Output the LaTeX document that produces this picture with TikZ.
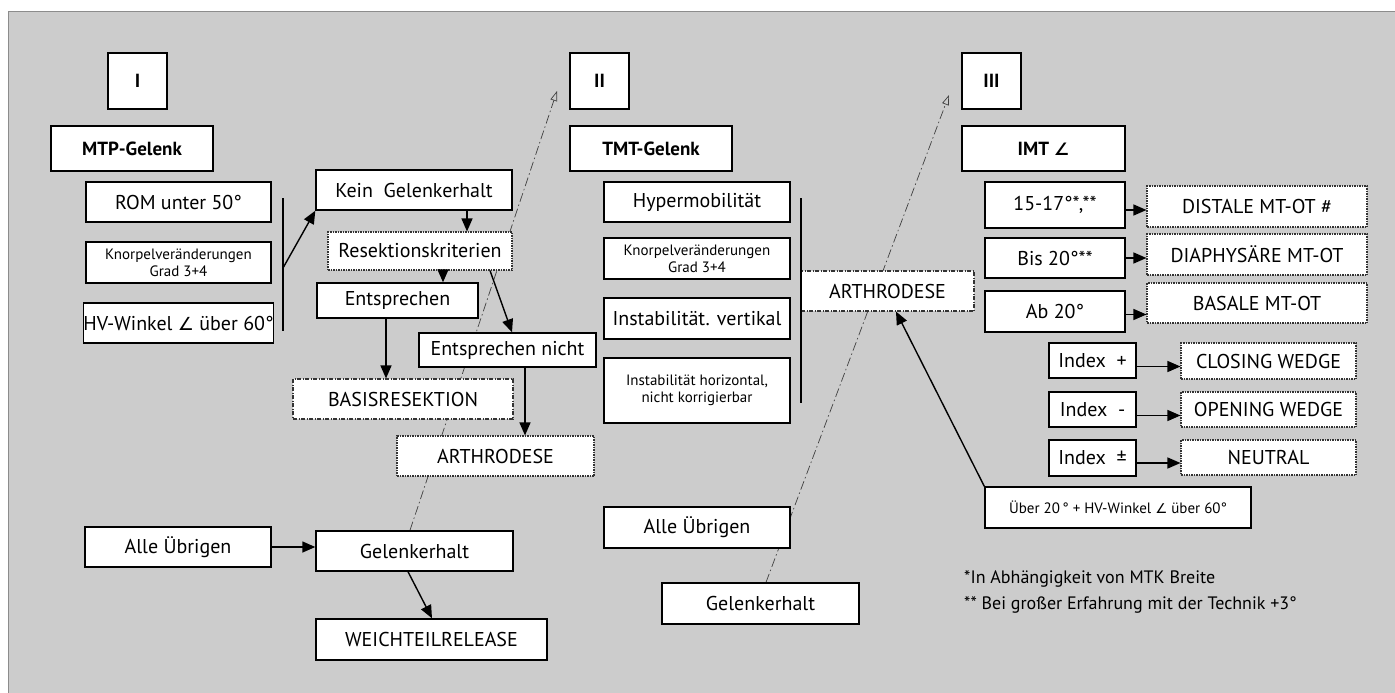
\documentclass[tikz,border=0pt]{standalone}
\usepackage{fontspec}
\setmainfont{PT Sans}
\newfontfamily\symfont{DejaVu Sans}
\usetikzlibrary{arrows.meta,backgrounds}
\newcommand{\angsym}{{\symfont\fontsize{0.9em}{1em}\selectfont\char"2220}}
\definecolor{bggray}{RGB}{204,204,204}
\tikzset{
  box/.style={draw=black, fill=white, line width=1.4pt, inner sep=0pt, align=center, font=\fontsize{20}{22}\selectfont},
  smalltxt/.style={font=\fontsize{15}{17}\selectfont},
  hdr/.style={font=\bfseries\fontsize{19}{21}\selectfont},
  dotbox/.style={box, draw=black!80, line width=1.1pt, dash pattern=on 1.5pt off 1pt},
  dashdotbox/.style={box, draw=black!80, line width=1.1pt, dash pattern=on 4pt off 1.5pt on 1pt off 1.5pt},
  arr/.style={-{Triangle[length=13pt,width=11pt]}, line width=1.4pt},
  bar/.style={line width=1.4pt},
  sepline/.style={draw=black!75, line width=0.7pt, dash pattern=on 9pt off 3pt on 1.5pt off 3pt, -{Triangle[open,length=10pt,width=7pt]}}
}
\begin{document}
\begin{tikzpicture}[x=1pt,y=-1pt]
\useasboundingbox (0,0) rectangle (1395,693);

% Column I
\node[box,hdr,minimum width=59pt,minimum height=56pt] (h1) at (137.5,81) {I};
\node[box,hdr,minimum width=162pt,minimum height=45pt] (mtp) at (132,148.5) {MTP-Gelenk};
\node[box,minimum width=185pt,minimum height=40pt] (rom) at (178.5,202) {ROM unter 50°};
\node[box,smalltxt,minimum width=185pt,minimum height=41pt] (kn1) at (178.5,262.5) {Knorpelveränderungen\\Grad 3+4};
\node[box,minimum width=185pt,minimum height=40pt] (hv) at (178.5,323) {HV-Winkel \angsym\ über 60°};
\node[box,minimum width=196pt,minimum height=40pt] (kein) at (414,190) {Kein\ \ Gelenkerhalt};
\node[dotbox,minimum width=184pt,minimum height=38pt] (resek) at (420,251) {Resektionskriterien};
\node[box,minimum width=161pt,minimum height=35pt] (ent) at (397.5,300.5) {Entsprechen};
\node[box,minimum width=177pt,minimum height=34pt] (entn) at (507.5,350) {Entsprechen nicht};
\node[dashdotbox,minimum width=220pt,minimum height=40pt] (basis) at (403,399) {BASISRESEKTION};
\node[dotbox,minimum width=197pt,minimum height=40pt] (arth1) at (495.5,456) {ARTHRODESE};
\node[box,minimum width=186pt,minimum height=40pt] (alle1) at (178,547) {Alle Übrigen};
\node[box,minimum width=197pt,minimum height=40pt] (gel1) at (414.5,551) {Gelenkerhalt};
\node[box,minimum width=231pt,minimum height=41pt] (weich) at (431.5,639.5) {WEICHTEILRELEASE};

% Column II
\node[box,hdr,minimum width=59pt,minimum height=56pt] (h2) at (599.5,81) {II};
\node[box,hdr,minimum width=162pt,minimum height=45pt] (tmt) at (651,148.5) {TMT-Gelenk};
\node[box,minimum width=186pt,minimum height=40pt] (hyp) at (697,202) {Hypermobilität};
\node[box,smalltxt,minimum width=186pt,minimum height=41pt] (kn2) at (697,258.5) {Knorpelveränderungen\\Grad 3+4};
\node[box,minimum width=186pt,minimum height=41pt] (iv) at (697,318.5) {Instabilität. vertikal};
\node[box,smalltxt,minimum width=186pt,minimum height=65pt] (ih) at (697,390.5) {Instabilität horizontal,\\nicht korrigierbar};
\node[dashdotbox,minimum width=173pt,minimum height=40pt] (arth2) at (887.5,291) {ARTHRODESE};
\node[box,minimum width=186pt,minimum height=41pt] (alle2) at (697,527.5) {Alle Übrigen};
\node[box,minimum width=197pt,minimum height=41pt] (gel2) at (760.5,603.5) {Gelenkerhalt};

% Column III
\node[box,hdr,minimum width=59pt,minimum height=56pt] (h3) at (991.5,81) {III};
\node[box,hdr,minimum width=163pt,minimum height=45pt] (imt) at (1043.5,148.5) {IMT \angsym};
\node[box,minimum width=140pt,minimum height=46pt] (a1517) at (1055,205) {15-17°*,**};
\node[box,minimum width=140pt,minimum height=40pt] (bis) at (1055,258) {Bis 20°**};
\node[box,minimum width=140pt,minimum height=41pt] (ab) at (1055,311.5) {Ab 20°};
\node[dotbox,minimum width=220pt,minimum height=41pt] (dist) at (1257,206.5) {DISTALE MT-OT \#};
\node[dotbox,minimum width=220pt,minimum height=41pt] (diaph) at (1257,254.5) {DIAPHYSÄRE MT-OT};
\node[dotbox,minimum width=220pt,minimum height=40pt] (basal) at (1257,303) {BASALE MT-OT};
\node[box,minimum width=87pt,minimum height=35pt] (ixp) at (1092.5,360.5) {Index\ \ +};
\node[box,minimum width=87pt,minimum height=35pt] (ixm) at (1092.5,409.5) {Index\ \ -};
\node[box,minimum width=87pt,minimum height=36pt] (ixpm) at (1092.5,458) {Index\ \ ±};
\node[dotbox,minimum width=175pt,minimum height=36pt] (close) at (1268.5,361) {CLOSING WEDGE};
\node[dotbox,minimum width=175pt,minimum height=35pt] (open) at (1268.5,409.5) {OPENING WEDGE};
\node[dotbox,minimum width=175pt,minimum height=35pt] (neut) at (1268.5,457.5) {NEUTRAL};
\node[box,smalltxt,minimum width=266pt,minimum height=41pt] (uber) at (1118,507.5) {Über 20\,° + HV-Winkel \angsym\ über 60°};

\node[anchor=west,inner sep=0pt,font=\fontsize{18}{20}\selectfont] (fn1) at (964,579) {*In Abhängigkeit von MTK Breite};
\node[anchor=west,inner sep=0pt,font=\fontsize{18}{20}\selectfont] (fn2) at (964,605) {** Bei großer Erfahrung mit der Technik +3°};

% helper coordinates
\coordinate (b1t) at (283,198);
\coordinate (b1b) at (283,331);
\coordinate (b1a) at (283,268);
\coordinate (b2t) at (801,198);
\coordinate (b2b) at (801,403);
\coordinate (x467) at (467,0);
\coordinate (x443) at (443,0);
\coordinate (x490) at (490,0);
\coordinate (x512) at (512,0);
\coordinate (x386) at (386,0);
\coordinate (x525) at (525,0);
\coordinate (x408) at (408,0);
\coordinate (x432) at (432,0);
\coordinate (x896) at (896,0);
\coordinate (x410) at (410,0);
\coordinate (x766) at (766,0);
\coordinate (t1) at (557,91);
\coordinate (t2) at (949,95);

% bars and arrows column I
\draw[bar] (b1t) -- (b1b);
\draw[arr] (b1a) -- (kein.south west);
\draw[arr] (kein.south -| x467) -- (resek.north -| x467);
\draw[arr] (resek.south -| x443) -- (ent.north -| x443);
\draw[arr] (resek.south -| x490) -- (entn.north -| x512);
\draw[arr] (ent.south -| x386) -- (basis.north -| x386);
\draw[arr] (entn.south -| x525) -- (arth1.north -| x525);
\draw[arr] (alle1.east) -- (alle1.east -| gel1.west);
\draw[arr] (gel1.south -| x408) -- (weich.north -| x432);

% column II
\draw[bar] (b2t) -- (b2b);
\draw[arr] (uber.north west) -- (arth2.south -| x896);

% column III
\draw[arr] ([yshift=-5pt]a1517.east) -- ([yshift=-5pt]a1517.east -| dist.west);
\draw[arr] (bis.east) -- (bis.east -| diaph.west);
\draw[arr] ([yshift=-3pt]ab.east) -- ([yshift=-3pt]ab.east -| basal.west);
\draw[arr] ([yshift=-6pt]ixp.east) -- ([yshift=-6pt]ixp.east -| close.west);
\draw[arr] ([yshift=-6pt]ixm.east) -- ([yshift=-6pt]ixm.east -| open.west);
\draw[arr] ([yshift=-5pt]ixpm.east) -- ([yshift=-5pt]ixpm.east -| neut.west);

\begin{pgfonlayer}{background}
\fill[bggray] (8,12) rectangle (1395,693);
\draw[black!45, line width=1pt] (8,693) -- (8,12) -- (1395,12);
\draw[sepline] (gel1.north -| x410) -- (t1);
\draw[sepline] (gel2.north -| x766) -- (t2);
\end{pgfonlayer}
\end{tikzpicture}
\end{document}
